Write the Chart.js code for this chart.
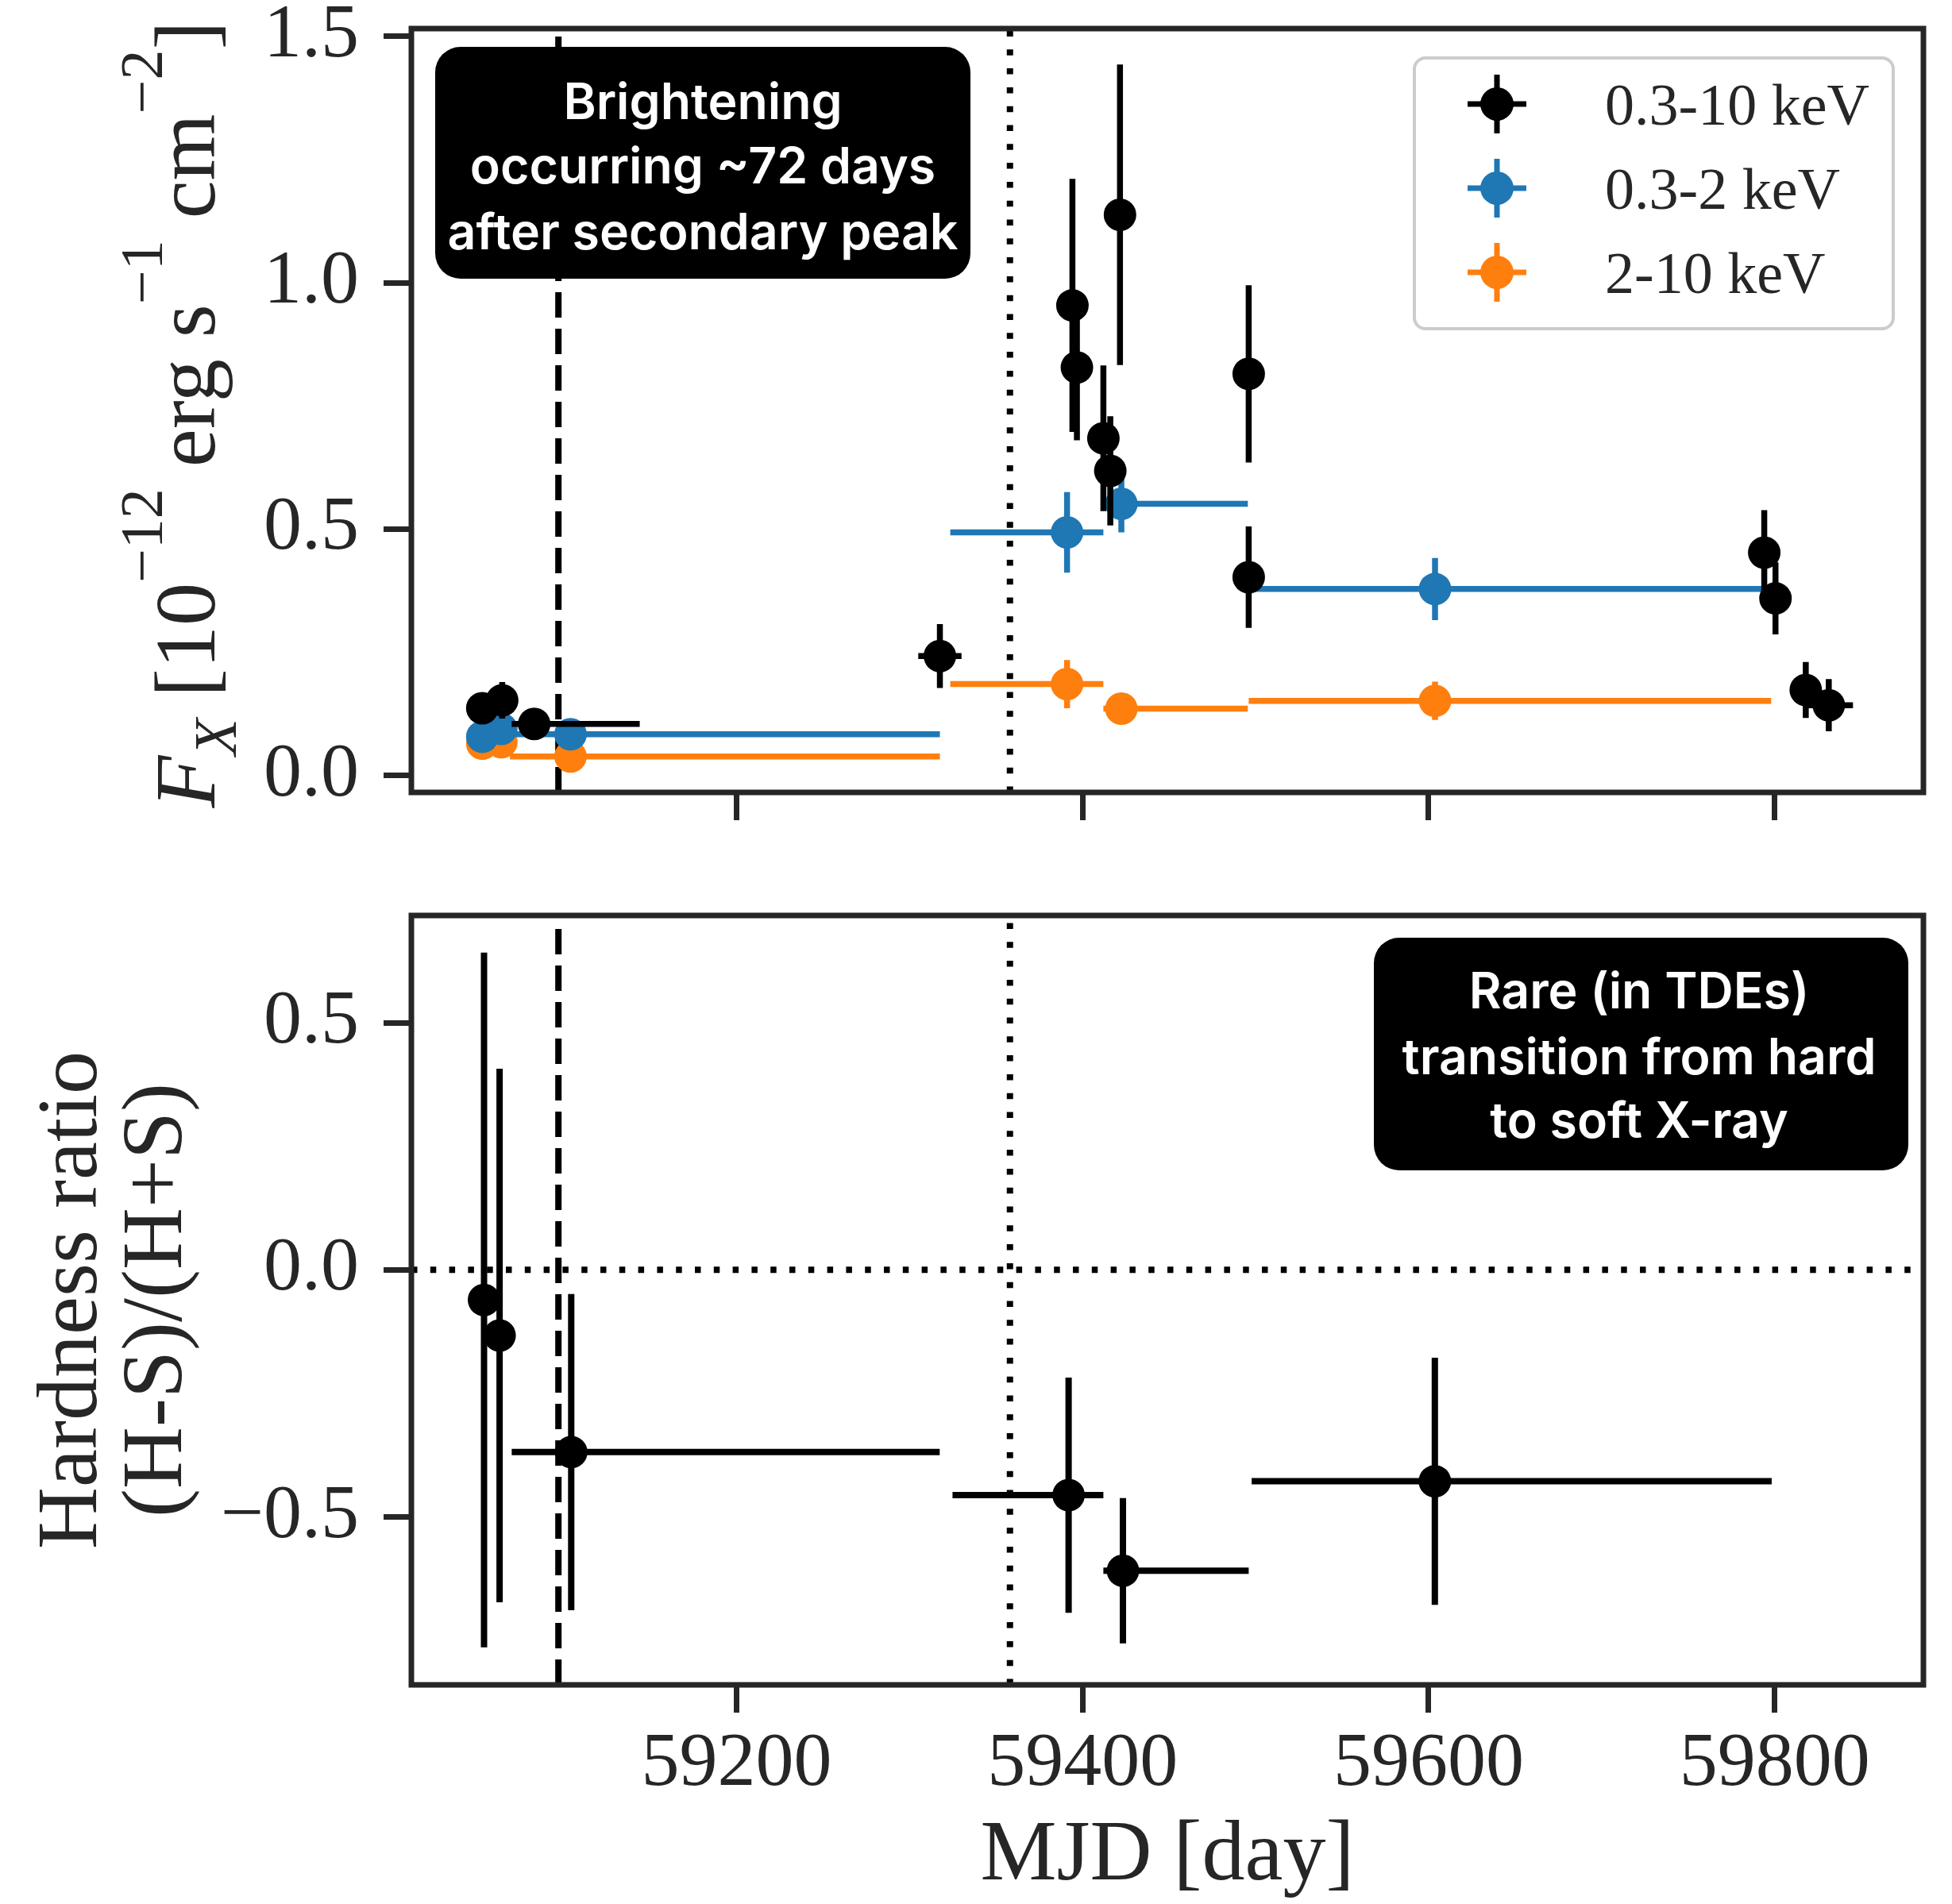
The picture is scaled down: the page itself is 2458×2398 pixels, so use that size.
<!DOCTYPE html>
<html>
<head>
<meta charset="utf-8">
<script src="https://cdn.jsdelivr.net/npm/chart.js@4.4.1/dist/chart.umd.min.js"></script>
<style>
  html, body { margin: 0; padding: 0; background: #ffffff; }
  #wrap { position: relative; width: 2458px; height: 2398px; }
  #wrap canvas { position: absolute; left: 0; top: 0; }
</style>
</head>
<body>
<div id="wrap">
  <canvas id="flux" width="2458" height="2398"></canvas>
  <canvas id="hardness" width="2458" height="2398"></canvas>
</div>
<script>
// ---------------- data ----------------
// 0.3-10 keV flux [1e-12 erg s^-1 cm^-2]
const broadMjd    = [59053, 59064.5, 59083, 59317.5, 59394.1, 59396.7, 59421.6, 59412, 59416, 59496, 59496, 59794, 59800.5, 59818, 59831.3];
const broadFlux   = [0.136, 0.152, 0.104, 0.242, 0.954, 0.828, 1.138, 0.684, 0.618, 0.815, 0.402, 0.452, 0.359, 0.173, 0.142];
const broadErr    = [0.020, 0.037, 0.010, 0.065, 0.257, 0.148, 0.305, 0.148, 0.111, 0.180, 0.103, 0.086, 0.073, 0.057, 0.053];
const broadMjdLo  = [59051, 59062.5, 59070, 59305, 59392.6, 59395.2, 59420.1, 59410.5, 59414.5, 59494.5, 59494.5, 59792.5, 59799, 59815, 59817.3];
const broadMjdHi  = [59055, 59066.5, 59144, 59330, 59395.6, 59398.2, 59423.1, 59413.5, 59417.5, 59497.5, 59497.5, 59795.5, 59802, 59821, 59845.3];

// 0.3-2 keV (soft) binned flux
const softMjd     = [59053, 59064, 59104, 59391, 59422.4, 59603.7];
const softFlux    = [0.078, 0.094, 0.083, 0.493, 0.551, 0.378];
const softErr     = [0.010, 0.010, 0.005, 0.082, 0.058, 0.063];
const softMjdLo   = [59051, 59062, 59069, 59323.5, 59412, 59496];
const softMjdHi   = [59055, 59066, 59317.5, 59412, 59495.5, 59794];

// 2-10 keV (hard) binned flux
const hardMjd     = [59053, 59064, 59104, 59391, 59422.4, 59603.7];
const hardFlux    = [0.064, 0.067, 0.038, 0.185, 0.135, 0.151];
const hardErr     = [0.010, 0.010, 0.005, 0.049, 0.020, 0.039];
const hardMjdLo   = [59051, 59062, 59069, 59323.5, 59412, 59496];
const hardMjdHi   = [59055, 59066, 59317.5, 59412, 59495.5, 59798];

// hardness ratio (H-S)/(H+S)
const hrMjd       = [59054, 59063, 59104.4, 59391.9, 59423.3, 59603.6];
const hrValue     = [-0.061, -0.133, -0.369, -0.456, -0.609, -0.428];
const hrErr       = [0.703, 0.540, 0.320, 0.238, 0.147, 0.250];
const hrMjdLo     = [59053, 59062, 59070, 59324.8, 59412, 59497.7];
const hrMjdHi     = [59055, 59064, 59317.4, 59412, 59496, 59798.3];

// axes
const mjdTicks    = [59200, 59400, 59600, 59800];
const fluxTicks   = [0.0, 0.5, 1.0, 1.5];
const hrTicks     = [-0.5, 0.0, 0.5];
const mjdRange    = [59012, 59886];
const fluxRange   = [-0.035, 1.516];
const hrRange     = [-0.840, 0.717];

// reference epochs
const dashedLineMjd = 59097;
const dottedLineMjd = 59358;
const hrZero        = 0.0;

const bandLabels  = ['0.3-10 keV', '0.3-2 keV', '2-10 keV'];
const noteTop     = ['Brightening', 'occurring ~72 days', 'after secondary peak'];
const noteBottom  = ['Rare (in TDEs)', 'transition from hard', 'to soft X-ray'];

// ---------------- style / layout ----------------
const W = 2458, H = 2398;
const PLOT_LEFT = 518, PLOT_RIGHT = 2422;
const TOP1 = 36, BOTTOM1 = 998;
const TOP2 = 1153, BOTTOM2 = 2122;
const SERIF = "'Liberation Serif', 'Times New Roman', serif";
const SANS = "Inter, 'Open Sans', sans-serif";
const INK = '#262626';
const COLORS = ['#000000', '#1f77b4', '#ff7f0e'];
const TICK_FONT = 96, LABEL_FONT = 108;
const SPINE = 7;

const pts = (xs, ys) => xs.map((x, i) => ({ x: x, y: ys[i] }));
const fmtNum = v => (v < 0 ? '\u2212' + Math.abs(v).toFixed(1) : v.toFixed(1));

function roundRect(ctx, x, y, w, h, r) {
  ctx.beginPath();
  ctx.moveTo(x + r, y);
  ctx.arcTo(x + w, y, x + w, y + h, r);
  ctx.arcTo(x + w, y + h, x, y + h, r);
  ctx.arcTo(x, y + h, x, y, r);
  ctx.arcTo(x, y, x + w, y, r);
  ctx.closePath();
}

// error bars drawn underneath each dataset's markers
function errorBarPlugin(specs, lineWidth) {
  return {
    id: 'errorBars',
    beforeDatasetDraw(chart, args) {
      const spec = specs[args.index];
      const ds = chart.data.datasets[args.index];
      const xs = chart.scales.x, ys = chart.scales.y;
      const ctx = chart.ctx;
      ctx.save();
      ctx.strokeStyle = ds.backgroundColor;
      ctx.lineWidth = lineWidth;
      ctx.lineCap = 'butt';
      ds.data.forEach((p, i) => {
        const px = xs.getPixelForValue(p.x);
        const py = ys.getPixelForValue(p.y);
        ctx.beginPath();
        ctx.moveTo(xs.getPixelForValue(spec.lo[i]), py);
        ctx.lineTo(xs.getPixelForValue(spec.hi[i]), py);
        ctx.moveTo(px, ys.getPixelForValue(p.y - spec.err[i]));
        ctx.lineTo(px, ys.getPixelForValue(p.y + spec.err[i]));
        ctx.stroke();
      });
      ctx.restore();
    }
  };
}

function vLine(chart, mjd, dash) {
  const ctx = chart.ctx, a = chart.chartArea;
  const x = chart.scales.x.getPixelForValue(mjd);
  ctx.save();
  ctx.strokeStyle = '#000000';
  ctx.lineWidth = 8;
  ctx.lineCap = 'butt';
  ctx.setLineDash(dash);
  ctx.beginPath();
  ctx.moveTo(x, a.bottom);
  ctx.lineTo(x, a.top);
  ctx.stroke();
  ctx.restore();
}

const DASHED = [32, 14];
const DOTTED = [7.5, 16.3];

function refLinesPlugin(withZero) {
  return {
    id: 'refLines',
    beforeDatasetsDraw(chart) { vLine(chart, dashedLineMjd, DASHED); },
    afterDatasetsDraw(chart) {
      vLine(chart, dottedLineMjd, DOTTED);
      if (withZero) {
        const ctx = chart.ctx, a = chart.chartArea;
        const y = chart.scales.y.getPixelForValue(hrZero);
        ctx.save();
        ctx.strokeStyle = '#000000';
        ctx.lineWidth = 8;
        ctx.setLineDash(DOTTED);
        ctx.beginPath();
        ctx.moveTo(a.left, y);
        ctx.lineTo(a.right, y);
        ctx.stroke();
        ctx.restore();
      }
    }
  };
}

const framePlugin = {
  id: 'frame',
  afterDraw(chart) {
    const ctx = chart.ctx, a = chart.chartArea;
    ctx.save();
    ctx.strokeStyle = INK;
    ctx.lineWidth = SPINE;
    ctx.strokeRect(a.left, a.top, a.right - a.left, a.bottom - a.top);
    ctx.restore();
  }
};

function noteFontSize(ctx) {
  ctx.font = '600 100px ' + SANS;
  return 100 * 643 / ctx.measureText('after secondary peak').width;
}

function drawNote(ctx, lines, box, cx, baselines) {
  ctx.save();
  roundRect(ctx, box[0], box[1], box[2], box[3], 32);
  ctx.fillStyle = '#000000';
  ctx.fill();
  const size = noteFontSize(ctx);
  ctx.font = '600 ' + size.toFixed(1) + 'px ' + SANS;
  ctx.fillStyle = '#ffffff';
  ctx.textAlign = 'center';
  ctx.textBaseline = 'alphabetic';
  lines.forEach((t, i) => ctx.fillText(t, cx, baselines[i]));
  ctx.restore();
}

const fluxDecor = {
  id: 'fluxDecor',
  afterDraw(chart) {
    const ctx = chart.ctx;
    // legend
    ctx.save();
    roundRect(ctx, 1781, 73, 603, 341, 14);
    ctx.fillStyle = 'rgba(255,255,255,0.8)';
    ctx.fill();
    ctx.lineWidth = 4;
    ctx.strokeStyle = '#cccccc';
    ctx.stroke();
    chart.data.datasets.forEach((ds, i) => {
      const cx = 1885, cy = 131 + i * 106;
      ctx.strokeStyle = ds.backgroundColor;
      ctx.lineWidth = 7;
      ctx.beginPath();
      ctx.moveTo(cx - 37, cy); ctx.lineTo(cx + 37, cy);
      ctx.moveTo(cx, cy - 37); ctx.lineTo(cx, cy + 37);
      ctx.stroke();
      ctx.beginPath();
      ctx.arc(cx, cy, 21, 0, Math.PI * 2);
      ctx.fillStyle = ds.backgroundColor;
      ctx.fill();
      ctx.fillStyle = INK;
      ctx.font = '74px ' + SERIF;
      ctx.textBaseline = 'alphabetic';
      ctx.fillText(ds.label, 2021, cy + 26);
    });
    ctx.restore();

    drawNote(ctx, noteTop, [548, 59, 674, 292], 885, [149.6, 231, 313.6]);

    // y-axis title with super/subscripts
    const big = LABEL_FONT, small = 76;
    const up = -66;
    const parts = [
      { t: 'F', f: 'italic ' + big + 'px ' + SERIF, dy: 0 },
      { t: 'X', f: 'italic ' + small + 'px ' + SERIF, dy: 27 },
      { t: ' [10', f: big + 'px ' + SERIF, dy: 0 },
      { t: '\u221212', f: small + 'px ' + SERIF, dy: up },
      { t: ' erg s', f: big + 'px ' + SERIF, dy: 0 },
      { t: '\u22121', f: small + 'px ' + SERIF, dy: up },
      { t: ' cm', f: big + 'px ' + SERIF, dy: 0 },
      { t: '\u22122', f: small + 'px ' + SERIF, dy: up },
      { t: ']', f: big + 'px ' + SERIF, dy: 0 }
    ];
    ctx.save();
    ctx.translate(270, 522);
    ctx.rotate(-Math.PI / 2);
    let total = 0;
    parts.forEach(p => { ctx.font = p.f; p.w = ctx.measureText(p.t).width; total += p.w; });
    let x = -total / 2;
    ctx.fillStyle = INK;
    ctx.textBaseline = 'alphabetic';
    parts.forEach(p => { ctx.font = p.f; ctx.fillText(p.t, x, p.dy); x += p.w; });
    ctx.restore();
  }
};

const hrDecor = {
  id: 'hrDecor',
  afterDraw(chart) {
    const ctx = chart.ctx;
    drawNote(ctx, noteBottom, [1730, 1181, 673, 293], 2064, [1270, 1353, 1433]);
    ctx.save();
    ctx.fillStyle = INK;
    ctx.font = LABEL_FONT + 'px ' + SERIF;
    ctx.textAlign = 'center';
    ctx.textBaseline = 'alphabetic';
    const cy = (chart.chartArea.top + chart.chartArea.bottom) / 2;
    ctx.translate(121, cy);
    ctx.rotate(-Math.PI / 2);
    ctx.fillText('Hardness ratio', 0, 0);
    ctx.fillText('(H-S)/(H+S)', 0, 107);
    ctx.restore();
  }
};

function tickGrid() {
  return { drawOnChartArea: false, drawTicks: true, tickLength: 35, tickWidth: SPINE, tickColor: INK, color: INK, lineWidth: SPINE };
}

function xScale(fitHeight, showLabels) {
  return {
    type: 'linear', position: 'bottom',
    min: mjdRange[0], max: mjdRange[1],
    afterBuildTicks: s => { s.ticks = mjdTicks.map(v => ({ value: v })); },
    afterFit: s => { s.height = fitHeight; s.paddingLeft = 0; s.paddingRight = 0; },
    ticks: {
      display: showLabels, autoSkip: false, maxRotation: 0, minRotation: 0,
      padding: 8, color: INK, font: { family: SERIF, size: TICK_FONT },
      callback: v => String(v)
    },
    grid: tickGrid(),
    border: { display: false },
    title: showLabels ? {
      display: true, text: 'MJD [day]', color: INK,
      font: { family: SERIF, size: LABEL_FONT, lineHeight: 1 },
      padding: { top: 0, bottom: 5 }
    } : { display: false }
  };
}

function yScale(range, ticks) {
  return {
    type: 'linear', position: 'left',
    min: range[0], max: range[1],
    afterBuildTicks: s => { s.ticks = ticks.map(v => ({ value: v })); },
    afterFit: s => { s.width = PLOT_LEFT; s.paddingTop = 0; s.paddingBottom = 0; },
    ticks: {
      autoSkip: false, padding: 31, color: INK,
      font: { family: SERIF, size: TICK_FONT },
      callback: v => fmtNum(v)
    },
    grid: tickGrid(),
    border: { display: false }
  };
}

function dataset(label, color, xs, ys) {
  return {
    label: label, data: pts(xs, ys), showLine: false,
    backgroundColor: color, borderColor: color,
    pointRadius: 20.5, pointHoverRadius: 20.5, pointBorderWidth: 0
  };
}

const baseOptions = {
  responsive: false, animation: false, devicePixelRatio: 1, events: [],
  plugins: { legend: { display: false }, tooltip: { enabled: false } }
};

new Chart(document.getElementById('flux'), {
  type: 'scatter',
  data: {
    datasets: [
      dataset(bandLabels[0], COLORS[0], broadMjd, broadFlux),
      dataset(bandLabels[1], COLORS[1], softMjd, softFlux),
      dataset(bandLabels[2], COLORS[2], hardMjd, hardFlux)
    ]
  },
  options: Object.assign({}, baseOptions, {
    layout: { padding: { left: 0, right: W - PLOT_RIGHT, top: TOP1, bottom: 0 } },
    scales: { x: xScale(H - BOTTOM1, false), y: yScale(fluxRange, fluxTicks) }
  }),
  plugins: [
    errorBarPlugin([
      { lo: broadMjdLo, hi: broadMjdHi, err: broadErr },
      { lo: softMjdLo, hi: softMjdHi, err: softErr },
      { lo: hardMjdLo, hi: hardMjdHi, err: hardErr }
    ], 7.5),
    refLinesPlugin(false), framePlugin, fluxDecor
  ]
});

new Chart(document.getElementById('hardness'), {
  type: 'scatter',
  data: { datasets: [ dataset('Hardness ratio', COLORS[0], hrMjd, hrValue) ] },
  options: Object.assign({}, baseOptions, {
    layout: { padding: { left: 0, right: W - PLOT_RIGHT, top: TOP2, bottom: 0 } },
    scales: { x: xScale(H - BOTTOM2, true), y: yScale(hrRange, hrTicks) }
  }),
  plugins: [
    errorBarPlugin([{ lo: hrMjdLo, hi: hrMjdHi, err: hrErr }], 8),
    refLinesPlugin(true), framePlugin, hrDecor
  ]
});
</script>
</body>
</html>
